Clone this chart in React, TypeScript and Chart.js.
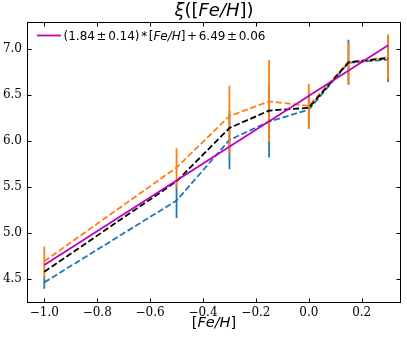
import React, { useEffect, useRef } from 'react';
import { Chart, registerables } from 'chart.js';

Chart.register(...registerables);

// ---- data ----
const xValues = [-1.0, -0.5, -0.3, -0.15, 0.0, 0.15, 0.3];
const blueValues = [4.46, 5.35, 6.01, 6.21, 6.34, 6.85, 6.885];
const blueLow = [4.39, 5.16, 5.69, 5.82, 6.15, 6.61, 6.64];
const blueHigh = [4.53, 5.54, 6.33, 6.6, 6.53, 7.1, 7.14];
const orangeValues = [4.69, 5.71, 6.27, 6.43, 6.38, 6.86, 6.91];
const orangeLow = [4.5, 5.49, 5.86, 5.99, 6.13, 6.62, 6.67];
const orangeHigh = [4.85, 5.92, 6.6, 6.88, 6.62, 7.07, 7.16];
const meanValues = [4.575, 5.56, 6.14, 6.33, 6.36, 6.855, 6.9];
const fitX = [-1.0, 0.3];
const fitValues = [4.65, 7.042];
const xTicks = [-1.0, -0.8, -0.6, -0.4, -0.2, 0.0, 0.2];
const yTicks = [4.5, 5.0, 5.5, 6.0, 6.5, 7.0];
// [text, italic, extra gap after (px)]
const legendText: [string, boolean, number][] = [
  ['(1.84', false, 1.6],
  ['\u00b1', false, 1.6],
  ['0.14)', false, 1.6],
  ['*', false, 1.6],
  ['[', false, 0],
  ['Fe/H', true, 0],
  [']', false, 1.6],
  ['+', false, 1.6],
  ['6.49', false, 1.6],
  ['\u00b1', false, 1.6],
  ['0.06', false, 0],
];
const titleText: [string, boolean, number][] = [
  ['\u03be', true, 0],
  ['([', false, 0],
  ['Fe/H', true, 0],
  ['])', false, 0],
];
const xLabelText: [string, boolean, number][] = [
  ['[', false, 0],
  ['Fe/H', true, 0],
  [']', false, 0],
];

const BLUE = '#1f77b4';
const ORANGE = '#ff7f0e';
const MAGENTA = '#bf00bf';
const DASH = [6.2, 2.7];
const LW = 1.8;

function pairs(xs: number[], ys: number[]) {
  return xs.map((x, i) => ({ x, y: ys[i] }));
}

function bars(xs: number[], lo: number[], hi: number[]) {
  const out: { x: number; y: number | null }[] = [];
  xs.forEach((x, i) => {
    out.push({ x, y: lo[i] });
    out.push({ x, y: hi[i] });
    out.push({ x, y: null });
  });
  return out;
}

function fmt(v: number) {
  const s = Math.abs(v) < 1e-9 ? '0.0' : v.toFixed(1);
  return s.replace('-', '\u2212');
}

function drawRich(
  ctx: CanvasRenderingContext2D,
  parts: [string, boolean, number][],
  x: number,
  y: number,
  size: number,
  align: 'center' | 'left'
) {
  const fam = '"DejaVu Sans"';
  const widths = parts.map(([t, it, g]) => {
    ctx.font = `${it ? 'italic ' : ''}${size}px ${fam}`;
    return ctx.measureText(t).width + g;
  });
  const total = widths.reduce((a, b) => a + b, 0);
  let cx = align === 'center' ? x - total / 2 : x;
  ctx.textAlign = 'left';
  ctx.textBaseline = 'alphabetic';
  ctx.fillStyle = '#000';
  parts.forEach(([t, it], i) => {
    ctx.font = `${it ? 'italic ' : ''}${size}px ${fam}`;
    ctx.fillText(t, cx, y);
    cx += widths[i];
  });
}

const decor = {
  id: 'decor',
  afterDatasetsDraw(chart: any) {
    const { ctx, chartArea: a, scales } = chart;
    ctx.save();
    ctx.strokeStyle = '#000';
    ctx.lineWidth = 1;
    const tl = 4.5;
    ctx.beginPath();
    xTicks.forEach((v) => {
      const p = Math.round(scales.x.getPixelForValue(v)) + 0.5;
      ctx.moveTo(p, a.bottom);
      ctx.lineTo(p, a.bottom - tl);
      ctx.moveTo(p, a.top);
      ctx.lineTo(p, a.top + tl);
    });
    yTicks.forEach((v) => {
      const p = Math.round(scales.y.getPixelForValue(v)) + 0.5;
      ctx.moveTo(a.left, p);
      ctx.lineTo(a.left + tl, p);
      ctx.moveTo(a.right, p);
      ctx.lineTo(a.right - tl, p);
    });
    ctx.stroke();
    ctx.strokeRect(a.left + 0.5, a.top + 0.5, a.right - a.left - 1, a.bottom - a.top - 1);
    ctx.restore();
  },
  afterDraw(chart: any) {
    const { ctx, chartArea: a } = chart;
    ctx.save();
    const cx = (a.left + a.right) / 2;
    drawRich(ctx, titleText, cx, 16, 18, 'center');
    drawRich(ctx, xLabelText, cx, 327, 14.5, 'center');
    // legend
    ctx.strokeStyle = MAGENTA;
    ctx.lineWidth = LW;
    ctx.beginPath();
    ctx.moveTo(37, 35.5);
    ctx.lineTo(61, 35.5);
    ctx.stroke();
    drawRich(ctx, legendText, 63.5, 40, 12, 'left');
    ctx.restore();
  },
};

export default function App() {
  const ref = useRef<HTMLCanvasElement>(null);
  useEffect(() => {
    if (!ref.current) return;
    const lineDs = (label: string, data: any, color: string, order: number, dashed: boolean) => ({
      label,
      data,
      borderColor: color,
      backgroundColor: color,
      borderWidth: LW,
      borderDash: dashed ? DASH : [],
      borderCapStyle: 'butt',
      pointRadius: 0,
      pointHoverRadius: 0,
      fill: false,
      tension: 0,
      spanGaps: false,
      order,
    });
    const chart = new Chart(ref.current, {
      type: 'line',
      data: {
        datasets: [
          lineDs('fit', pairs(fitX, fitValues), MAGENTA, 0, false),
          lineDs('mean', pairs(xValues, meanValues), '#000', 1, true),
          lineDs('orangeErr', bars(xValues, orangeLow, orangeHigh), ORANGE, 2, false),
          lineDs('orange', pairs(xValues, orangeValues), ORANGE, 3, true),
          lineDs('blueErr', bars(xValues, blueLow, blueHigh), BLUE, 4, false),
          lineDs('blue', pairs(xValues, blueValues), BLUE, 5, true),
        ] as any,
      },
      options: {
        animation: false,
        responsive: false,
        devicePixelRatio: 1,
        layout: { padding: { top: 22, right: 6, left: 0, bottom: 0 } },
        plugins: {
          legend: { display: false },
          title: { display: false },
          tooltip: { enabled: false },
        },
        scales: {
          x: {
            type: 'linear',
            min: -1.0654,
            max: 0.3486,
            grid: { display: false, drawTicks: false },
            border: { display: false },
            afterBuildTicks: (s: any) => {
              s.ticks = xTicks.map((v) => ({ value: v }));
            },
            afterFit: (s: any) => {
              s.height = 36;
            },
            ticks: {
              autoSkip: false,
              maxRotation: 0,
              padding: 3,
              color: '#000',
              font: { family: '"DejaVu Serif"', size: 12 },
              callback: (v: any) => fmt(Number(v)),
            },
          },
          y: {
            type: 'linear',
            min: 4.2355,
            max: 7.294,
            grid: { display: false, drawTicks: false },
            border: { display: false },
            afterBuildTicks: (s: any) => {
              s.ticks = yTicks.map((v) => ({ value: v }));
            },
            afterFit: (s: any) => {
              s.width = 27;
            },
            ticks: {
              autoSkip: false,
              padding: 5,
              color: '#000',
              font: { family: '"DejaVu Serif"', size: 12 },
              callback: (v: any) => fmt(Number(v)),
            },
          },
        },
      } as any,
      plugins: [decor],
    });
    return () => chart.destroy();
  }, []);
  return (
    <div style={{ position: 'absolute', left: 0, top: 0, width: 407, height: 339, background: '#fff' }}>
      <canvas ref={ref} width={407} height={339} style={{ display: 'block' }} />
    </div>
  );
}
